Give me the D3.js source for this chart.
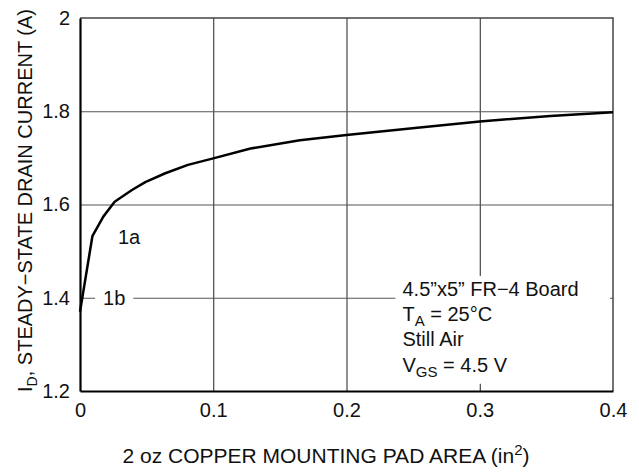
<!DOCTYPE html>
<html>
<head>
<meta charset="utf-8">
<script src="https://cdn.jsdelivr.net/npm/d3@7"></script>
<style>
  body { margin: 0; background: #fff; }
  svg { font-family: "Liberation Sans", Arial, sans-serif; }
</style>
</head>
<body>
<div id="chart"></div>
<script>
// Pad area (in^2) vs steady-state drain current (A)
const padArea = [0, 0.0093, 0.0175, 0.026, 0.039, 0.049, 0.064, 0.081, 0.1, 0.128, 0.165, 0.2, 0.255, 0.3, 0.353, 0.4];
const drainCurrent = [1.37, 1.532, 1.574, 1.606, 1.631, 1.648, 1.667, 1.685, 1.699, 1.72, 1.738, 1.749, 1.765, 1.778, 1.79, 1.798];

const xTicks = [0, 0.1, 0.2, 0.3, 0.4];
const yTicks = [1.2, 1.4, 1.6, 1.8, 2];

// curve labels, in data units
const curveLabels = [
    { text: "1a", x: 0.0285, y: 1.531 },
    { text: "1b", x: 0.0173, y: 1.4 }
];
const noteLines = ["4.5\u201dx5\u201d FR\u22124 Board", ["T", "A", " = 25\u00b0C"], "Still Air", ["V", "GS", " = 4.5 V"]];

const width = 639;
const height = 473;
const margin = { top: 18, right: 26, bottom: 82, left: 80 };

const svg = d3.select("#chart")
    .append("svg")
    .attr("width", width)
    .attr("height", height);

const x = d3.scaleLinear()
    .domain([0, 0.4])
    .range([margin.left, width - margin.right]);

const y = d3.scaleLinear()
    .domain([1.2, 2])
    .range([height - margin.bottom, margin.top]);

// Grid lines
svg.append("g")
    .attr("transform", `translate(0,${height - margin.bottom})`)
    .call(d3.axisBottom(x).tickValues(xTicks.slice(1, -1)).tickSize(-(y(1.2) - y(2))).tickFormat(""))
    .call(g => g.select(".domain").remove())
    .call(g => g.selectAll("line").attr("stroke", "#222").attr("stroke-width", 1));

svg.append("g")
    .attr("transform", `translate(${margin.left},0)`)
    .call(d3.axisLeft(y).tickValues(yTicks.slice(1, -1)).tickSize(-(x(0.4) - x(0))).tickFormat(""))
    .call(g => g.select(".domain").remove())
    .call(g => g.selectAll("line").attr("stroke", "#555").attr("stroke-width", 1));

// top / right frame
svg.append("path")
    .attr("d", `M${x(0)},${y(2)}H${x(0.4)}V${y(1.2)}`)
    .attr("fill", "none")
    .attr("stroke", "#444")
    .attr("stroke-width", 1.5);

// Curve
const line = d3.line()
    .x((d, i) => x(padArea[i]))
    .y(d => y(d));

svg.append("path")
    .datum(drainCurrent)
    .attr("d", line)
    .attr("fill", "none")
    .attr("stroke", "#000")
    .attr("stroke-width", 2.5)
    .attr("stroke-linejoin", "round");

// Curve labels (1b gets a white gap in the grid line)
curveLabels.forEach(l => {
    const g = svg.append("g");
    const t = g.append("text")
        .attr("x", x(l.x))
        .attr("y", y(l.y))
        .attr("dy", "0.35em")
        .attr("font-size", 20)
        .attr("fill", "#111")
        .text(l.text);
    if (l.text === "1b") {
        const b = t.node().getBBox();
        g.insert("rect", "text")
            .attr("x", b.x - 8).attr("y", b.y)
            .attr("width", b.width + 16).attr("height", b.height)
            .attr("fill", "#fff");
    }
});

// Conditions note
const note = svg.append("g");
const noteText = note.append("text")
    .attr("font-size", 20)
    .attr("fill", "#111");
noteLines.forEach((ln, i) => {
    const ty = y(1.404) + i * 25.3;
    if (typeof ln === "string") {
        noteText.append("tspan").attr("x", x(0.242)).attr("y", ty).text(ln);
    } else {
        noteText.append("tspan").attr("x", x(0.242)).attr("y", ty).text(ln[0]);
        noteText.append("tspan").attr("font-size", 15).attr("dy", 5).text(ln[1]);
        noteText.append("tspan").attr("dy", -5).text(ln[2]);
    }
});
const nb = noteText.node().getBBox();
note.insert("rect", "text")
    .attr("x", nb.x - 7)
    .attr("y", nb.y - 2)
    .attr("width", x(0.4) - 3 - (nb.x - 7))
    .attr("height", nb.height + 6)
    .attr("fill", "#fff");

// Axes
svg.append("g")
    .attr("transform", `translate(0,${height - margin.bottom})`)
    .call(d3.axisBottom(x).tickValues(xTicks).tickSize(0).tickPadding(12).tickFormat(d => d === 0 ? "0" : d3.format(".1f")(d)))
    .call(g => g.select(".domain").attr("stroke", "#000").attr("stroke-width", 2.2))
    .call(g => g.selectAll("text").attr("font-size", 20).attr("fill", "#111").attr("font-family", null));

svg.append("g")
    .attr("transform", `translate(${margin.left},0)`)
    .call(d3.axisLeft(y).tickValues(yTicks).tickSize(0).tickPadding(10).tickFormat(d => d === 2 ? "2" : d3.format(".1f")(d)))
    .call(g => g.select(".domain").attr("stroke", "#000").attr("stroke-width", 2.2))
    .call(g => g.selectAll("text").attr("font-size", 20).attr("fill", "#111").attr("font-family", null));

// Axis titles
const xt = svg.append("text")
    .attr("x", 326)
    .attr("y", 463)
    .attr("text-anchor", "middle")
    .attr("font-size", 21)
    .attr("fill", "#111");
xt.append("tspan").text("2 oz COPPER MOUNTING PAD AREA (in");
xt.append("tspan").attr("font-size", 15).attr("dy", -8).text("2");
xt.append("tspan").attr("dy", 8).text(")");

const yt = svg.append("text")
    .attr("transform", `translate(32,${(y(1.2) + y(2)) / 2 - 4}) rotate(-90)`)
    .attr("text-anchor", "middle")
    .attr("font-size", 20)
    .attr("fill", "#111");
yt.append("tspan").text("I");
yt.append("tspan").attr("font-size", 14).attr("dy", 5).text("D");
yt.append("tspan").attr("dy", -5).text(", STEADY\u2212STATE DRAIN CURRENT (A)");
</script>
</body>
</html>
